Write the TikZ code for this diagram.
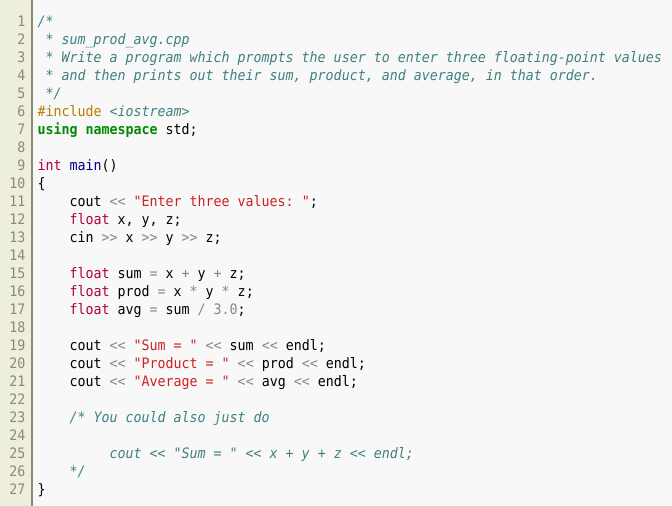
\documentclass[tikz,border=0pt]{standalone}
\usepackage{fontspec}
\setmonofont[FakeStretch=0.923]{DejaVu Sans Mono}
\definecolor{bg}{HTML}{F8F8F8}
\definecolor{gutter}{HTML}{EEEEDD}
\definecolor{gutline}{HTML}{8C8C6C}
\definecolor{numc}{HTML}{8A8A72}
\definecolor{cmtc}{HTML}{3F8080}
\definecolor{ppc}{HTML}{B87A00}
\definecolor{kwc}{HTML}{B0003E}
\definecolor{nsc}{HTML}{008A00}
\definecolor{fnc}{HTML}{000088}
\definecolor{strc}{HTML}{CC2222}
\definecolor{opc}{HTML}{888888}
\newcommand\Cmt[1]{\textcolor{cmtc}{\itshape #1}}
\newcommand\Pp[1]{\textcolor{ppc}{#1}}
\newcommand\Kw[1]{\textcolor{kwc}{#1}}
\newcommand\Ns[1]{\textcolor{nsc}{\bfseries #1}}
\newcommand\Fn[1]{\textcolor{fnc}{#1}}
\newcommand\Str[1]{\textcolor{strc}{#1}}
\newcommand\Op[1]{\textcolor{opc}{#1}}
\tikzset{
  codeline/.style={anchor=base west, inner sep=0pt, text=black,
    font=\ttfamily\fontsize{14.4}{16}\selectfont},
  lnum/.style={anchor=base east, inner sep=0pt, text=numc,
    font=\ttfamily\fontsize{14.4}{16}\selectfont},
}
\begin{document}
\begin{tikzpicture}[x=1pt,y=1pt]
\useasboundingbox (0,0) rectangle (672,-506);
\fill[bg] (0,0) rectangle (672,-506);
\fill[gutter] (0,0) rectangle (32,-506);
\draw[gutline, line width=1.2pt] (32,0) -- (32,-506);
\foreach \i in {1,...,27}
  \node[lnum] (n\i) at (25.5,{-26-18*(\i-1)}) {\i};
\def\cx{37.5}
\node[codeline] (l1) at (\cx,-26) {\Cmt{/*}};
\node[codeline] (l2) at (\cx,-44) {\Cmt{~* sum\_prod\_avg.cpp}};
\node[codeline] (l3) at (\cx,-62) {\Cmt{~* Write a program which prompts the user to enter three floating-point values}};
\node[codeline] (l4) at (\cx,-80) {\Cmt{~* and then prints out their sum, product, and average, in that order.}};
\node[codeline] (l5) at (\cx,-98) {\Cmt{~*/}};
\node[codeline] (l6) at (\cx,-116) {\Pp{\#include} \Cmt{<iostream>}};
\node[codeline] (l7) at (\cx,-134) {\Ns{using namespace} std;};
\node[codeline] (l9) at (\cx,-170) {\Kw{int} \Fn{main}()};
\node[codeline] (l10) at (\cx,-188) {\{};
\node[codeline] (l11) at (\cx,-206) {~~~~cout \Op{<<} \Str{"Enter three values: "};};
\node[codeline] (l12) at (\cx,-224) {~~~~\Kw{float} x, y, z;};
\node[codeline] (l13) at (\cx,-242) {~~~~cin \Op{>>} x \Op{>>} y \Op{>>} z;};
\node[codeline] (l15) at (\cx,-278) {~~~~\Kw{float} sum \Op{=} x \Op{+} y \Op{+} z;};
\node[codeline] (l16) at (\cx,-296) {~~~~\Kw{float} prod \Op{=} x \Op{*} y \Op{*} z;};
\node[codeline] (l17) at (\cx,-314) {~~~~\Kw{float} avg \Op{=} sum \Op{/} \Op{3.0};};
\node[codeline] (l19) at (\cx,-350) {~~~~cout \Op{<<} \Str{"Sum = "} \Op{<<} sum \Op{<<} endl;};
\node[codeline] (l20) at (\cx,-368) {~~~~cout \Op{<<} \Str{"Product = "} \Op{<<} prod \Op{<<} endl;};
\node[codeline] (l21) at (\cx,-386) {~~~~cout \Op{<<} \Str{"Average = "} \Op{<<} avg \Op{<<} endl;};
\node[codeline] (l23) at (\cx,-422) {~~~~\Cmt{/* You could also just do}};
\node[codeline] (l25) at (\cx,-458) {~~~~~~~~~\Cmt{cout << "Sum = " << x + y + z << endl;}};
\node[codeline] (l26) at (\cx,-476) {~~~~\Cmt{*/}};
\node[codeline] (l27) at (\cx,-494) {\}};
\end{tikzpicture}
\end{document}
